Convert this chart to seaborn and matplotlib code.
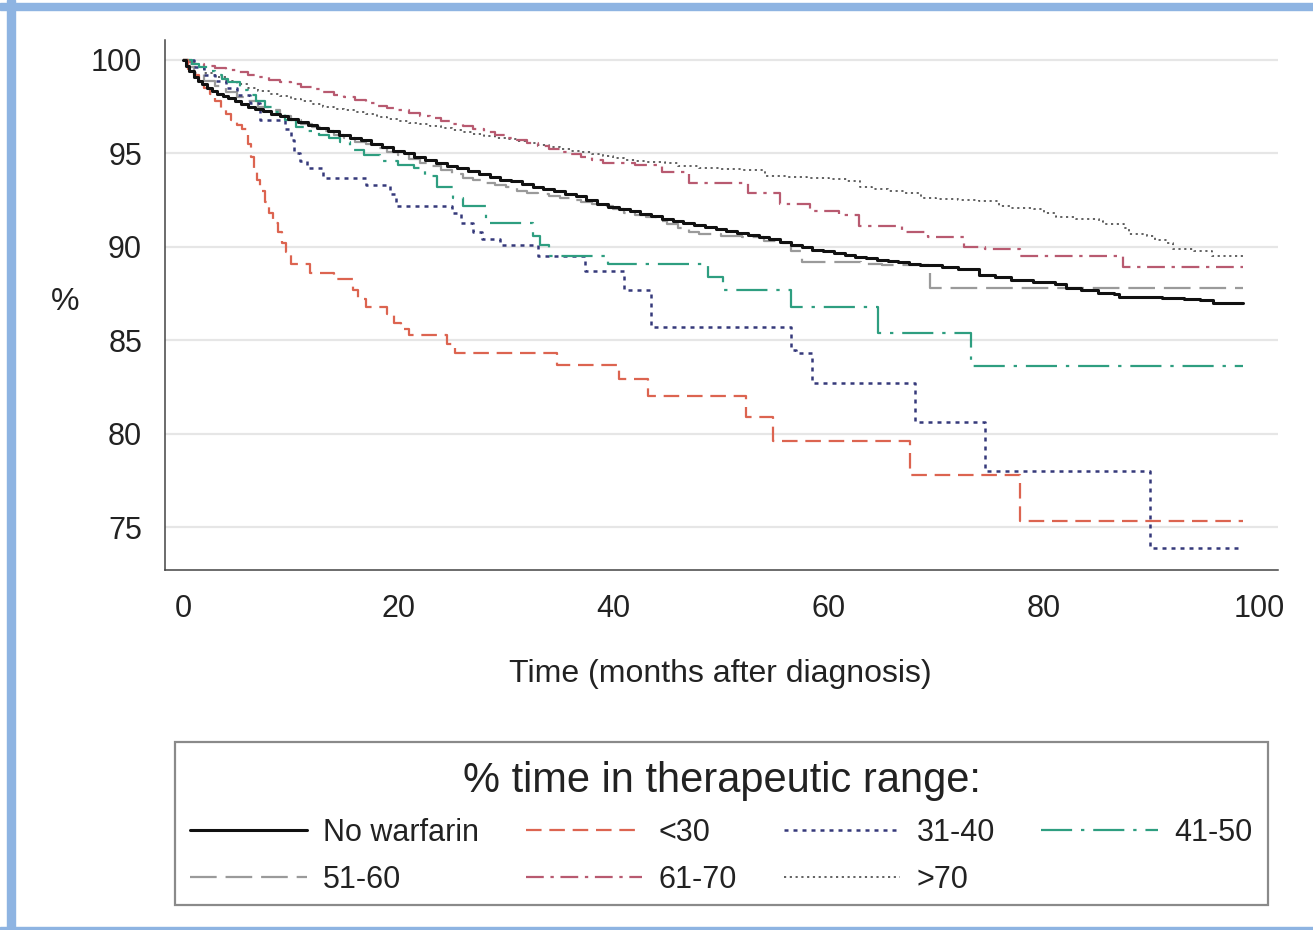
"""Survival-style step curves by % time in therapeutic range, drawn with seaborn."""
import matplotlib
matplotlib.use('Agg')
import matplotlib.pyplot as plt
from matplotlib.patches import Rectangle
import seaborn as sns

# ---- data (months, %) ----
no_warfarin_t = [0, 0.3, 0.6, 1.0, 1.4, 1.8, 2.2, 2.7, 3.2, 3.7, 4.2, 4.8, 5.4, 6.0, 6.7, 7.4,
                 8.2, 9.0, 9.8, 10.7, 11.6, 12.5, 13.5, 14.5, 15.5, 16.5, 17.5, 18.5, 19.5,
                 20.5, 21.5, 22.5, 23.5, 24.5, 25.5, 26.5, 27.5, 28.5, 29.5, 30.5, 31.5, 32.5,
                 33.5, 34.5, 35.5, 36.5, 37.5, 38.5, 39.5, 40.5, 41.5, 42.5, 43.5, 44.5, 45.5,
                 46.5, 47.5, 48.5, 49.5, 50.5, 51.5, 52.5, 53.5, 54.5, 55.5, 56.5, 57.5, 58.5,
                 59.5, 60.5, 61.5, 62.5, 63.5, 64.5, 65.5, 66.5, 67.5, 68.5, 69.5, 70.5, 72,
                 74, 75.5, 77, 79, 81, 82.1, 83.5, 85, 86.5, 87, 89, 91, 93, 94.5, 95.7, 98.5]
no_warfarin_v = [100, 99.7, 99.4, 99.1, 98.9, 98.7, 98.5, 98.35, 98.2, 98.05, 97.95, 97.8,
                 97.65, 97.5, 97.4, 97.25, 97.1, 97.0, 96.85, 96.7, 96.5, 96.35, 96.2, 96.0,
                 95.85, 95.7, 95.5, 95.35, 95.15, 95.0, 94.8, 94.65, 94.5, 94.35, 94.2, 94.05,
                 93.9, 93.75, 93.6, 93.5, 93.35, 93.2, 93.1, 93.0, 92.85, 92.7, 92.5, 92.3,
                 92.15, 92.0, 91.9, 91.75, 91.65, 91.5, 91.4, 91.25, 91.15, 91.05, 90.95, 90.85,
                 90.75, 90.65, 90.5, 90.4, 90.25, 90.1, 90.0, 89.85, 89.75, 89.65, 89.55, 89.45,
                 89.4, 89.3, 89.25, 89.2, 89.1, 89.05, 89.0, 88.9, 88.8, 88.5, 88.4, 88.2, 88.1,
                 88.0, 87.8, 87.7, 87.55, 87.45, 87.3, 87.3, 87.25, 87.2, 87.15, 87.0, 87.0]

lt30_t = [0, 0.5, 1.0, 1.5, 2.0, 2.5, 3.0, 3.5, 4.0, 4.5, 5.0, 5.5, 6.0, 6.3, 6.6, 6.9, 7.2,
          7.6, 8.0, 8.4, 8.8, 9.2, 9.6, 10.0, 11.8, 14.0, 15.8, 16.3, 17.0, 19.0, 19.6, 20.3,
          21.0, 24.5, 25.3, 34.8, 40.5, 43.2, 52.3, 54.8, 67.6, 77.8, 98.5]
lt30_v = [100, 99.5, 99.2, 98.9, 98.5, 98.2, 97.8, 97.4, 97.1, 96.8, 96.5, 96.3, 95.5, 94.8,
          94.2, 93.6, 93.0, 92.4, 91.8, 91.3, 90.8, 90.2, 89.7, 89.1, 88.6, 88.3, 87.7, 87.2,
          86.8, 86.4, 85.9, 85.6, 85.3, 84.8, 84.3, 83.7, 82.9, 82.0, 80.9, 79.6, 77.8, 75.3,
          75.3]

r31_40_t = [0, 1, 2, 3, 4, 5, 6.2, 7.2, 9.5, 10.0, 10.3, 10.9, 11.5, 13.0, 17.0, 19.2, 19.8,
            25.0, 25.8, 27.0, 27.8, 29.5, 33.0, 37.4, 41.0, 43.5, 56.5, 57.0, 58.5, 68.0,
            74.5, 89.9, 98.5]
r31_40_v = [100, 99.6, 99.2, 98.9, 98.5, 98.1, 97.7, 96.8, 96.3, 95.7, 95.0, 94.6, 94.2, 93.7,
            93.3, 92.8, 92.2, 91.8, 91.3, 90.8, 90.4, 90.1, 89.5, 88.7, 87.7, 85.7, 84.5,
            84.3, 82.7, 80.6, 78.0, 73.9, 73.9]

r41_50_t = [0, 0.8, 1.5, 2.3, 3.0, 3.6, 4.2, 5.3, 6.0, 6.8, 7.6, 8.5, 9.5, 10.5, 11.5, 12.6,
            13.6, 14.6, 15.5, 16.8, 18.3, 20.0, 21.5, 22.5, 23.6, 25.1, 26.0, 28.2, 32.5, 33.2,
            34.0, 39.5, 48.8, 50.2, 56.5, 64.6, 73.2, 98.5]
r41_50_v = [100, 99.8, 99.6, 99.4, 99.2, 99.0, 98.8, 98.4, 98.1, 97.8, 97.5, 97.2, 96.8, 96.4,
            96.2, 96.0, 95.8, 95.6, 95.2, 94.9, 94.6, 94.4, 94.2, 93.8, 93.2, 92.6, 92.2, 91.3,
            90.6, 90.1, 89.5, 89.1, 88.4, 87.7, 86.8, 85.4, 83.6, 83.6]

r51_60_t = [0, 0.5, 1, 2, 3, 4, 5, 6, 7, 8, 9, 10, 11, 12, 13, 14, 15, 16, 17, 18, 19, 20, 21,
            22, 23, 24, 25, 26, 27, 28, 29, 30, 31, 32, 33, 34, 35, 36, 37, 38, 39, 40, 41, 42,
            43, 44, 45, 46, 47, 48, 50, 52, 54, 55.5, 56.5, 57.5, 63, 65, 69.4, 98.5]
r51_60_v = [100, 99.6, 99.3, 98.9, 98.6, 98.3, 98.0, 97.8, 97.5, 97.3, 97.0, 96.8, 96.6, 96.4,
            96.2, 96.0, 95.8, 95.6, 95.5, 95.3, 95.1, 94.9, 94.7, 94.5, 94.3, 94.1, 93.9, 93.7,
            93.6, 93.4, 93.3, 93.2, 93.0, 92.9, 92.8, 92.7, 92.6, 92.5, 92.4, 92.3, 92.2, 92.0,
            91.8, 91.7, 91.6, 91.4, 91.2, 91.0, 90.8, 90.7, 90.6, 90.5, 90.3, 90.2, 89.8, 89.2,
            89.1, 89.0, 87.8, 87.8]

r61_70_t = [0, 0.5, 1, 2, 3, 4, 5, 6, 7, 8, 9, 10, 11, 12, 13, 14, 15, 16, 17, 18, 19, 20, 21,
            22, 23, 24, 25, 26, 27, 28, 29, 30, 31, 32, 33, 34, 35, 36, 37, 38, 39, 42, 44.5,
            47, 52.5, 55.5, 58.3, 61, 62.8, 66.8, 69.2, 72.6, 74.5, 77.8, 87.4, 98.5]
r61_70_v = [100, 99.9, 99.8, 99.7, 99.55, 99.45, 99.35, 99.2, 99.1, 98.95, 98.8, 98.7, 98.55,
            98.45, 98.3, 98.15, 98.0, 97.85, 97.7, 97.55, 97.45, 97.3, 97.15, 97.0, 96.9, 96.75,
            96.6, 96.45, 96.3, 96.15, 96.0, 95.85, 95.7, 95.55, 95.4, 95.25, 95.1, 94.95, 94.8,
            94.65, 94.5, 94.4, 94.0, 93.4, 92.9, 92.3, 91.9, 91.7, 91.1, 90.8, 90.5, 90.0, 89.9,
            89.5, 88.9, 88.9]

gt70_t = [0, 0.5, 1, 2, 3, 4, 5, 6, 7, 8, 9, 10, 11, 12, 13, 14, 15, 16, 17, 18, 19, 20, 21,
          22, 23, 24, 25, 26, 27, 28, 29, 30, 31, 32, 33, 34, 35, 36, 37, 38, 39, 40, 41, 42,
          43, 44.8, 46, 48, 50, 52, 54.1, 56, 58, 60, 61.7, 62.9, 64, 65.5, 67, 68.6, 70, 72,
          74, 75.8, 77, 79.1, 80, 81.1, 83, 85.1, 85.5, 87.5, 87.9, 89.6, 90.3, 91.5, 92, 94,
          95.6, 98.5]
gt70_v = [100, 99.8, 99.6, 99.3, 99.1, 98.9, 98.7, 98.5, 98.35, 98.2, 98.05, 97.9, 97.8,
          97.65, 97.5, 97.4, 97.3, 97.2, 97.1, 96.95, 96.85, 96.75, 96.65, 96.55, 96.45, 96.35,
          96.25, 96.15, 96.05, 95.95, 95.85, 95.75, 95.65, 95.55, 95.45, 95.35, 95.25, 95.15,
          95.05, 94.95, 94.85, 94.75, 94.65, 94.6, 94.55, 94.5, 94.3, 94.2, 94.15, 94.1, 93.8,
          93.75, 93.7, 93.65, 93.5, 93.2, 93.1, 93.0, 92.9, 92.6, 92.55, 92.5, 92.45, 92.2,
          92.1, 92.0, 91.8, 91.6, 91.5, 91.4, 91.2, 91.0, 90.7, 90.6, 90.35, 90.2, 89.9, 89.8,
          89.5, 89.5]

x_ticks = [0, 20, 40, 60, 80, 100]
y_ticks = [75, 80, 85, 90, 95, 100]

sns.set_style('white')
plt.rcParams['font.family'] = ['Liberation Sans', 'DejaVu Sans']

fig = plt.figure(figsize=(13.13, 9.30), dpi=100)
ax = fig.add_axes([165 / 1313, 1 - 570 / 930, 1113 / 1313, 530 / 930])

# (t, v, label, colour, linestyle, linewidth) for each group
series = [
    (no_warfarin_t, no_warfarin_v, 'No warfarin', '#111111', '-', 2.2),
    (r51_60_t, r51_60_v, '51-60', '#9a9a9a', (0, (12, 4)), 1.6),
    (lt30_t, lt30_v, '<30', '#dc6450', (0, (7, 3.5)), 1.6),
    (r61_70_t, r61_70_v, '61-70', '#b85a70', (0, (8, 3, 1.5, 3)), 1.6),
    (r31_40_t, r31_40_v, '31-40', '#35397a', (0, (1.6, 2.0)), 1.8),
    (gt70_t, gt70_v, '>70', '#555555', (0, (1.2, 2.0)), 1.3),
    (r41_50_t, r41_50_v, '41-50', '#2e9e80', (0, (14, 4, 1.5, 4)), 1.6),
]
draw_order = ['>70', '61-70', '51-60', '31-40', '41-50', '<30', 'No warfarin']
lookup = {s[2]: s for s in series}
for name in draw_order:
    t, v, label, colour, ls, lw = lookup[name]
    sns.lineplot(x=t, y=v, ax=ax, color=colour, linestyle=ls, linewidth=lw,
                 drawstyle='steps-post', estimator=None, label=label)

ax.set_xlim(-1.67, 101.77)
ax.set_ylim(72.7, 101.07)
ax.set_xticks(x_ticks)
ax.set_yticks(y_ticks)
ax.tick_params(axis='both', labelsize=22, length=8.5, width=1, color='#555555',
               direction='out', pad=8, labelcolor='#222222')
ax.tick_params(axis='x', pad=9)
ax.yaxis.grid(True, color='#e6e6e6', linewidth=1.6)
ax.set_axisbelow(True)
for side in ['top', 'right']:
    ax.spines[side].set_visible(False)
for side in ['left', 'bottom']:
    ax.spines[side].set_color('#444444')
    ax.spines[side].set_linewidth(1.1)

ax.set_xlabel('Time (months after diagnosis)', fontsize=23, color='#222222')
ax.xaxis.set_label_coords(0.4987, -0.168)
ax.set_ylabel('%', fontsize=23, rotation=0, ha='center', va='center', color='#222222')
ax.yaxis.set_label_coords(-0.0898, 0.506)

# legend under the plot, row-major order as in the reference
handles, labels = ax.get_legend_handles_labels()
ax.get_legend().remove()
hmap = dict(zip(labels, handles))
order = ['No warfarin', '51-60', '<30', '61-70', '31-40', '>70', '41-50']
leg = fig.legend([hmap[k] for k in order], order, ncol=4, mode='expand',
                 loc='lower left', bbox_to_anchor=(180 / 1313, 1 - 905 / 930, 1083 / 1313, 0.17),
                 fontsize=22, title='% time in therapeutic range:', title_fontsize=30,
                 frameon=False, handlelength=3.8, handletextpad=0.55, labelspacing=0.55,
                 borderpad=0.34, borderaxespad=0)
for txt in leg.get_texts():
    txt.set_color('#222222')
leg.get_title().set_color('#222222')

# the legend box itself
fig.patches.append(Rectangle((175 / 1313, 1 - 905 / 930), 1093 / 1313, 163 / 930,
                             transform=fig.transFigure, fill=False,
                             edgecolor='#8a8a8a', linewidth=1.6, zorder=1))

# light blue frame round the picture
frame_blue = '#8eb4e2'
fig.patches.append(Rectangle((7 / 1313, 0), 8 / 1313, 1, transform=fig.transFigure,
                             color=frame_blue, zorder=0))
fig.patches.append(Rectangle((0, 1 - 10 / 930), 1, 7 / 930, transform=fig.transFigure,
                             color=frame_blue, zorder=0))
fig.patches.append(Rectangle((0, 0), 1, 3 / 930, transform=fig.transFigure,
                             color=frame_blue, zorder=0))

fig.savefig('out.png', dpi=100)
